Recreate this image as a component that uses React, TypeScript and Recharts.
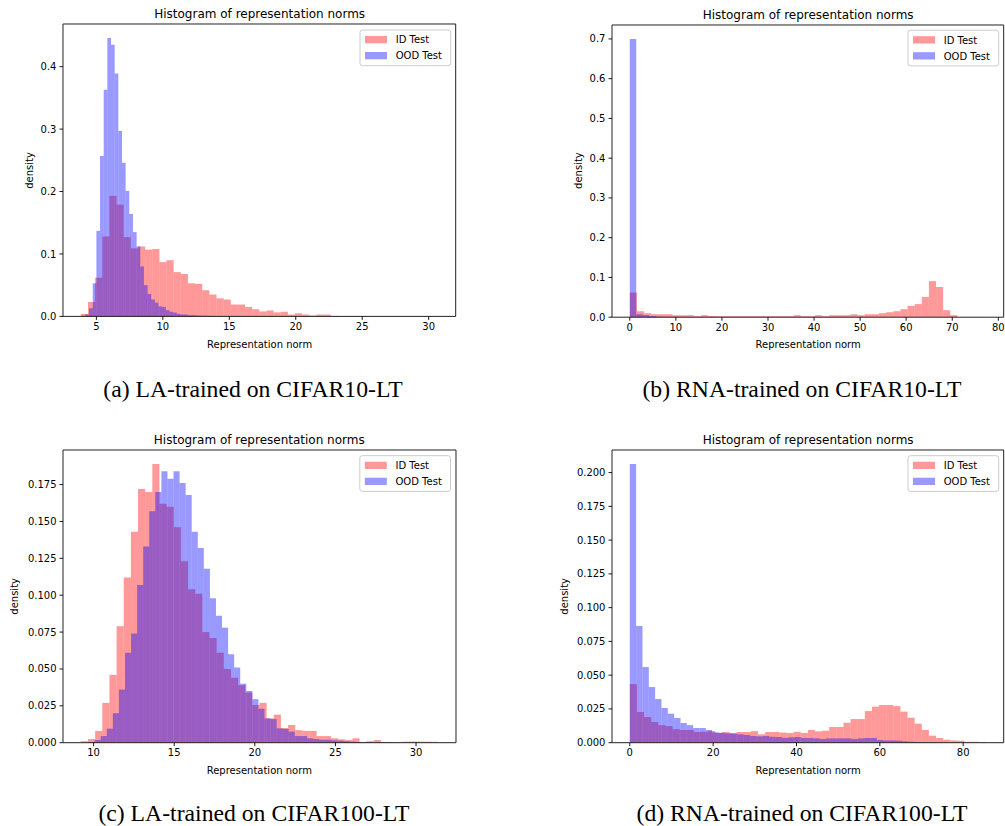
import React from 'react';
import { ComposedChart, XAxis, YAxis, ReferenceArea } from 'recharts';

// ---------- data (density per bin; 50 equal bins over each series' range) ----------
const aIdRange: [number, number] = [3.83, 30.69];
const aIdDensity = [0.004, 0.023, 0.062, 0.128, 0.193, 0.179, 0.127, 0.109, 0.112, 0.107, 0.108, 0.087, 0.09, 0.071, 0.068, 0.053, 0.052, 0.042, 0.035, 0.029, 0.027, 0.019, 0.019, 0.015, 0.0115, 0.008, 0.0095, 0.0065, 0.0075, 0.003, 0.005, 0.003, 0.0015, 0.003, 0.003, 0.0008, 0.0004, 0.0006, 0.0002, 0.0003, 0.0001, 0.0002, 0, 0.0001, 0, 0, 0.0001, 0, 0, 0.0001];
const aOodRange: [number, number] = [3.9, 17.65];
const aOodDensity = [0.001, 0.003, 0.013, 0.053, 0.137, 0.257, 0.363, 0.446, 0.435, 0.389, 0.297, 0.246, 0.201, 0.164, 0.135, 0.112, 0.08, 0.05, 0.036, 0.027, 0.022, 0.016, 0.015, 0.01, 0.0075, 0.006, 0.004, 0.003, 0.003, 0.002, 0.002, 0.0015, 0.0012, 0.001, 0.001, 0.0008, 0.0006, 0.0005, 0.0004, 0.0003, 0.0003, 0.0002, 0.0002, 0.0001, 0.0001, 0.0001, 0.0001, 0, 0, 0.0001];

const bIdRange: [number, number] = [0, 77.3];
const bIdDensity = [0.062, 0.015, 0.01, 0.0075, 0.0075, 0.0075, 0.005, 0.005, 0.005, 0.0025, 0.005, 0.003, 0.0025, 0.0025, 0.0025, 0.0025, 0.0025, 0.0025, 0.0025, 0.0025, 0.0025, 0.0025, 0.0025, 0.005, 0.0025, 0.0025, 0.005, 0.0025, 0.005, 0.005, 0.005, 0.0075, 0.005, 0.0075, 0.0075, 0.01, 0.0125, 0.015, 0.02, 0.0285, 0.033, 0.051, 0.0906, 0.076, 0.0176, 0.005, 0.0003, 0.0002, 0.0001, 0.0001];
const bOodRange: [number, number] = [0, 70];
const bOodDensity = [0.7, 0.0075, 0.005, 0.003, 0.0015, 0.001, 0.0008, 0.0006, 0.0005, 0.0004, 0.0003, 0.0003, 0.0002, 0.0002, 0.0002, 0.0001, 0.0001, 0.0001, 0.0001, 0.0001, 0.0001, 0, 0.0001, 0, 0.0001, 0, 0, 0.0001, 0, 0, 0.0001, 0, 0, 0, 0.0001, 0, 0, 0, 0, 0.0001, 0, 0, 0, 0, 0, 0, 0, 0, 0, 0.0001];

const cIdRange: [number, number] = [9.21, 31.37];
const cIdDensity = [0.001, 0.0025, 0.008, 0.027, 0.046, 0.079, 0.112, 0.143, 0.172, 0.17, 0.189, 0.162, 0.16, 0.146, 0.123, 0.104, 0.101, 0.075, 0.071, 0.061, 0.05, 0.044, 0.039, 0.034, 0.0255, 0.027, 0.0165, 0.019, 0.01, 0.012, 0.0085, 0.008, 0.008, 0.0045, 0.0045, 0.003, 0.0023, 0.0018, 0.003, 0.0005, 0.001, 0.0018, 0.0005, 0.0005, 0.0004, 0.0007, 0.0008, 0.0007, 0.0007, 0.0006];
const cOodRange: [number, number] = [9.69, 28.5];
const cOodDensity = [0.0005, 0.0018, 0.0045, 0.0095, 0.02, 0.036, 0.061, 0.074, 0.107, 0.133, 0.157, 0.17, 0.184, 0.179, 0.184, 0.176, 0.168, 0.143, 0.132, 0.118, 0.098, 0.086, 0.078, 0.06, 0.051, 0.04, 0.035, 0.0295, 0.023, 0.0165, 0.016, 0.0097, 0.0093, 0.0075, 0.0045, 0.0045, 0.003, 0.0025, 0.002, 0.002, 0.0016, 0.0014, 0.001, 0.0007, 0.0005, 0.0005, 0.0004, 0.0003, 0.0002, 0.0002];

const dIdRange: [number, number] = [0, 85.45];
const dIdDensity = [0.0434, 0.0227, 0.019, 0.0153, 0.013, 0.0123, 0.01, 0.0094, 0.0094, 0.0079, 0.0081, 0.0086, 0.0072, 0.0079, 0.0072, 0.0079, 0.0079, 0.0086, 0.0062, 0.0079, 0.0079, 0.0075, 0.0072, 0.0081, 0.0072, 0.0094, 0.0084, 0.0089, 0.0116, 0.0116, 0.0148, 0.0175, 0.0175, 0.0234, 0.0267, 0.0279, 0.0279, 0.0271, 0.023, 0.0185, 0.0141, 0.0094, 0.0052, 0.0035, 0.0022, 0.0017, 0.0015, 0.0007, 0.0007, 0.0005];
const dOodRange: [number, number] = [0, 76];
const dOodDensity = [0.2064, 0.0864, 0.056, 0.0412, 0.0323, 0.0257, 0.0215, 0.0183, 0.0146, 0.013, 0.0109, 0.0109, 0.0094, 0.0077, 0.0074, 0.0069, 0.0067, 0.0062, 0.0057, 0.005, 0.0047, 0.005, 0.0044, 0.0042, 0.0036, 0.004, 0.0042, 0.0035, 0.0035, 0.0032, 0.0027, 0.0032, 0.0032, 0.0032, 0.0032, 0.0027, 0.0032, 0.0035, 0.0035, 0.002, 0.0017, 0.0017, 0.0015, 0.001, 0.0007, 0.0005, 0.0003, 0.0002, 0.0002, 0.0001];

const aXTicks = [5, 10, 15, 20, 25, 30];
const aYTicks = [0, 0.1, 0.2, 0.3, 0.4];
const bXTicks = [0, 10, 20, 30, 40, 50, 60, 70, 80];
const bYTicks = [0, 0.1, 0.2, 0.3, 0.4, 0.5, 0.6, 0.7];
const cXTicks = [10, 15, 20, 25, 30];
const cYTicks = [0, 0.025, 0.05, 0.075, 0.1, 0.125, 0.15, 0.175];
const dXTicks = [0, 20, 40, 60, 80];
const dYTicks = [0, 0.025, 0.05, 0.075, 0.1, 0.125, 0.15, 0.175, 0.2];

const seriesNames = ['ID Test', 'OOD Test'];
const titleText = 'Histogram of representation norms';
const xLabelText = 'Representation norm';
const yLabelText = 'density';
const captions = [
  '(a) LA-trained on CIFAR10-LT',
  '(b) RNA-trained on CIFAR10-LT',
  '(c) LA-trained on CIFAR100-LT',
  '(d) RNA-trained on CIFAR100-LT',
];

// ---------- styling / layout ----------
const SANS = "'DejaVu Sans', 'Liberation Sans', sans-serif";
const SERIF = "'Liberation Serif', 'DejaVu Serif', serif";
const RED = '#ff0000';
const BLUE = '#0000ff';
const RED_SW = '#ff9999';
const BLUE_SW = '#9999ff';

type Bin = { x1: number; x2: number; v: number };
function toBins(range: [number, number], vals: number[]): Bin[] {
  const w = (range[1] - range[0]) / vals.length;
  return vals.map((v, i) => ({ x1: range[0] + i * w, x2: range[0] + (i + 1) * w, v }));
}

type PanelCfg = {
  idRange: [number, number];
  id: number[];
  oodRange: [number, number];
  ood: number[];
  xTicks: number[];
  yTicks: number[];
  yDigits: number;
  PL: number;
  PT: number;
  PW: number;
  PH: number;
  yLabelX: number;
  caption: string;
  capX: number;
  capY: number;
};

const panels: PanelCfg[] = [
  { idRange: aIdRange, id: aIdDensity, oodRange: aOodRange, ood: aOodDensity, xTicks: aXTicks, yTicks: aYTicks, yDigits: 1, PL: 63.3, PT: 24.3, PW: 392.7, PH: 292.4, yLabelX: 30.5, caption: captions[0], capX: 253, capY: 396.7 },
  { idRange: bIdRange, id: bIdDensity, oodRange: bOodRange, ood: bOodDensity, xTicks: bXTicks, yTicks: bYTicks, yDigits: 1, PL: 612.3, PT: 24.5, PW: 391.7, PH: 292.2, yLabelX: 579, caption: captions[1], capX: 802, capY: 396.7 },
  { idRange: cIdRange, id: cIdDensity, oodRange: cOodRange, ood: cOodDensity, xTicks: cXTicks, yTicks: cYTicks, yDigits: 3, PL: 62.8, PT: 450, PW: 393, PH: 292.7, yLabelX: 15, caption: captions[2], capX: 254, capY: 821 },
  { idRange: dIdRange, id: dIdDensity, oodRange: dOodRange, ood: dOodDensity, xTicks: dXTicks, yTicks: dYTicks, yDigits: 3, PL: 612.3, PT: 450, PW: 391.7, PH: 292.7, yLabelX: 565, caption: captions[3], capX: 802, capY: 821 },
];

const Y_AXIS_W = 60;
const X_AXIS_H = 26;
const PAD = 5;

function Panel({ p }: { p: PanelCfg }) {
  const idBins = toBins(p.idRange, p.id);
  const oodBins = toBins(p.oodRange, p.ood);
  const lo = Math.min(p.idRange[0], p.oodRange[0]);
  const hi = Math.max(p.idRange[1], p.oodRange[1]);
  const R = hi - lo;
  const xDomain: [number, number] = [lo - 0.05 * R, hi + 0.05 * R];
  const yMax = Math.max(...p.id, ...p.ood) * 1.05;
  const data = idBins.map((b) => ({ x: (b.x1 + b.x2) / 2, y: b.v }));
  const tickStyle = { fontSize: 10, fill: '#000', fontFamily: SANS };

  return (
    <div style={{ position: 'absolute', left: p.PL - Y_AXIS_W, top: p.PT - PAD }}>
      <ComposedChart
        width={Y_AXIS_W + p.PW + PAD}
        height={PAD + p.PH + X_AXIS_H}
        data={data}
        margin={{ top: PAD, right: PAD, bottom: 0, left: 0 }}
      >
        <XAxis
          type="number"
          dataKey="x"
          domain={xDomain}
          allowDataOverflow
          ticks={p.xTicks}
          interval={0}
          height={X_AXIS_H}
          axisLine={false}
          tickLine={{ stroke: '#000', strokeWidth: 0.9 }}
          tickSize={3.5}
          tickMargin={3}
          tick={tickStyle}
          tickFormatter={(v: number) => String(v)}
        />
        <YAxis
          type="number"
          domain={[0, yMax]}
          allowDataOverflow
          ticks={p.yTicks}
          interval={0}
          width={Y_AXIS_W}
          axisLine={false}
          tickLine={{ stroke: '#000', strokeWidth: 0.9 }}
          tickSize={3.5}
          tickMargin={3}
          tick={tickStyle}
          tickFormatter={(v: number) => v.toFixed(p.yDigits)}
        />
        {idBins
          .filter((b) => b.v > 0)
          .map((b, i) => (
            <ReferenceArea key={'id' + i} x1={b.x1} x2={b.x2} y1={0} y2={b.v} fill={RED} fillOpacity={0.4} stroke="none" ifOverflow="visible" />
          ))}
        {oodBins
          .filter((b) => b.v > 0)
          .map((b, i) => (
            <ReferenceArea key={'ood' + i} x1={b.x1} x2={b.x2} y1={0} y2={b.v} fill={BLUE} fillOpacity={0.4} stroke="none" ifOverflow="visible" />
          ))}
        <ReferenceArea x1={xDomain[0]} x2={xDomain[1]} y1={0} y2={yMax} fill="none" fillOpacity={0} stroke="#222" strokeWidth={1} ifOverflow="visible" />
      </ComposedChart>
    </div>
  );
}

function Overlay() {
  return (
    <svg width={1005} height={826} style={{ position: 'absolute', left: 0, top: 0, pointerEvents: 'none' }}>
      {panels.map((p, i) => {
        const cx = p.PL + p.PW / 2;
        const cy = p.PT + p.PH / 2;
        const lx = p.PL + p.PW - 5.3 - 90.7;
        const ly = p.PT + 5.7;
        return (
          <g key={i}>
            <text x={cx} y={p.PT - 6} textAnchor="middle" fontFamily={SANS} fontSize={12} fill="#000">
              {titleText}
            </text>
            <text x={cx} y={p.PT + p.PH + 31.6} textAnchor="middle" fontFamily={SANS} fontSize={10} fill="#000">
              {xLabelText}
            </text>
            <text transform={`translate(${p.yLabelX + 2.7}, ${cy}) rotate(-90)`} textAnchor="middle" fontFamily={SANS} fontSize={10} fill="#000">
              {yLabelText}
            </text>
            <rect x={lx} y={ly} width={90.7} height={35.7} rx={2.5} fill="#fff" fillOpacity={0.8} stroke="#cccccc" strokeWidth={1} />
            <rect x={lx + 5} y={ly + 6} width={22} height={7.3} fill={RED_SW} />
            <rect x={lx + 5} y={ly + 22} width={22} height={7.3} fill={BLUE_SW} />
            <text x={lx + 35.7} y={ly + 13.3} fontFamily={SANS} fontSize={10} fill="#000">
              {seriesNames[0]}
            </text>
            <text x={lx + 35.7} y={ly + 29.3} fontFamily={SANS} fontSize={10} fill="#000">
              {seriesNames[1]}
            </text>
            <text x={p.capX} y={p.capY} textAnchor="middle" fontFamily={SERIF} fontSize={23.7} fill="#000">
              {p.caption}
            </text>
          </g>
        );
      })}
    </svg>
  );
}

export default function App() {
  return (
    <div style={{ position: 'absolute', left: 0, top: 0, width: 1005, height: 826, background: '#fff', overflow: 'hidden' }}>
      {panels.map((p, i) => (
        <Panel key={i} p={p} />
      ))}
      <Overlay />
    </div>
  );
}
